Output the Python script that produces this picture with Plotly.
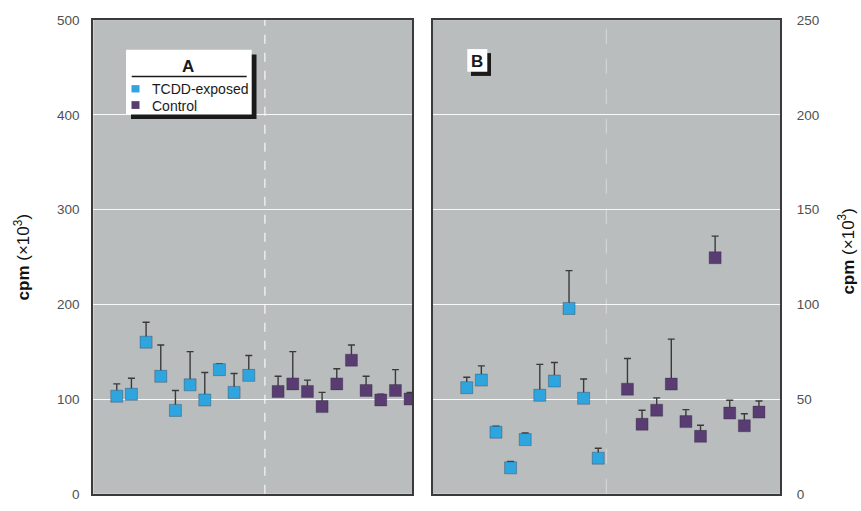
import plotly.graph_objects as go

W, H = 861, 511

# ---------------- data ----------------
exposed_pos = [1, 2, 3, 4, 5, 6, 7, 8, 9, 10]
control_pos = [12, 13, 14, 15, 16, 17, 18, 19, 20, 21]

a_exposed = [103, 105, 160, 124, 88, 115, 99, 131, 107, 125]
a_exposed_err = [13, 17, 21, 33, 21, 35, 29, 6, 20, 21]
a_control = [108, 116, 108, 92, 116, 141, 109, 99, 109, 100]
a_control_err = [16, 34, 12, 15, 16, 16, 15, 6, 22, 7]

b_exposed = [56, 60, 32.5, 13.7, 28.6, 52, 59.5, 97.8, 50.4, 18.8]
b_exposed_err = [5.5, 7.5, 3.1, 3.4, 3.5, 16.3, 9.8, 20, 10.2, 5.2]
b_control = [55.2, 36.7, 44.1, 57.9, 38.1, 30.3, 124.6, 42.6, 35.9, 43.1]
b_control_err = [16.2, 7.4, 6.5, 23.7, 6.3, 5.9, 11.4, 6.8, 6.3, 5.9]

a_ticks = [0, 100, 200, 300, 400, 500]
b_ticks = [0, 50, 100, 150, 200, 250]

series_names = ["TCDD-exposed", "Control"]

# ---------------- styles ----------------
BLUE = "#2ea5de"
PURPLE = "#583c72"
BG = "#b9bdbd"
ERRC = "#3a3a3a"
FONT = "Liberation Sans, Arial, sans-serif"
TICKFONT = dict(family=FONT, size=13.5, color="#505050")


def px(x):
    return x / W


def py(y):
    return 1 - y / H


fig = go.Figure()


def add_series(x, y, err, color, xa, ya, name):
    fig.add_trace(go.Scatter(
        x=x, y=y, mode="markers", name=name, showlegend=False,
        xaxis=xa, yaxis=ya, hoverinfo="skip",
        marker=dict(symbol="square", size=12, color=color,
                    line=dict(width=0.6, color="rgba(40,30,50,0.5)")),
        error_y=dict(type="data", array=err, arrayminus=[0] * len(err),
                     symmetric=False, color=ERRC, thickness=1.4, width=3.5),
    ))


add_series(exposed_pos, a_exposed, a_exposed_err, BLUE, "x", "y", series_names[0])
add_series(control_pos, a_control, a_control_err, PURPLE, "x", "y", series_names[1])
add_series(exposed_pos, b_exposed, b_exposed_err, BLUE, "x2", "y2", series_names[0])
add_series(control_pos, b_control, b_control_err, PURPLE, "x2", "y2", series_names[1])

y_dom = [py(501.5), py(13.5)]

axis_common = dict(showline=True, linecolor="#3a3a3a", linewidth=2, mirror=True,
                   zeroline=False, ticks="")

fig.update_layout(
    width=W, height=H,
    margin=dict(l=0, r=0, t=0, b=0),
    paper_bgcolor="white",
    plot_bgcolor=BG,
    showlegend=False,
    xaxis=dict(domain=[px(93.3), px(412.3)], range=[-0.6, 21.15],
               showgrid=False, showticklabels=False, **axis_common),
    yaxis=dict(domain=y_dom, range=[0, 500], tickvals=a_ticks,
               ticktext=[str(t) for t in a_ticks],
               showgrid=True, gridcolor="rgba(255,255,255,0.9)", gridwidth=1,
               tickfont=TICKFONT, ticklabelstandoff=9, **axis_common),
    xaxis2=dict(domain=[px(432.7), px(780)], range=[-1.33, 22.44], anchor="y2",
                showgrid=False, showticklabels=False, **axis_common),
    yaxis2=dict(domain=y_dom, range=[0, 250], anchor="x2", side="right",
                tickvals=b_ticks, ticktext=[str(t) for t in b_ticks],
                showgrid=True, gridcolor="rgba(255,255,255,0.9)", gridwidth=1,
                tickfont=TICKFONT, ticklabelstandoff=12, **axis_common),
)

shapes = []
# vertical dividers between groups
shapes.append(dict(type="line", xref="x", yref="y domain", x0=11.1, x1=11.1, y0=0, y1=1,
                   line=dict(color="rgba(255,255,255,0.85)", width=1.3, dash="dash"), layer="below"))
shapes.append(dict(type="line", xref="x2", yref="y2 domain", x0=10.55, x1=10.55, y0=0, y1=1,
                   line=dict(color="rgba(255,255,255,0.45)", width=1, dash="longdash"), layer="below"))

# legend box A (shadow + white box)
shapes.append(dict(type="rect", xref="paper", yref="paper",
                   x0=px(131), x1=px(256.5), y0=py(115.5), y1=py(49),
                   fillcolor="#1a1a1a", line=dict(width=0)))
shapes.append(dict(type="rect", xref="paper", yref="paper",
                   x0=px(126), x1=px(251.7), y0=py(110.7), y1=py(44),
                   fillcolor="white", line=dict(width=0)))
shapes.append(dict(type="line", xref="paper", yref="paper",
                   x0=px(131.7), x1=px(246.7), y0=py(71.7), y1=py(71.7),
                   line=dict(color="#1a1a1a", width=1.5)))
shapes.append(dict(type="rect", xref="paper", yref="paper",
                   x0=px(131.5), x1=px(139.5), y0=py(88), y1=py(80.5),
                   fillcolor=BLUE, line=dict(width=0)))
shapes.append(dict(type="rect", xref="paper", yref="paper",
                   x0=px(131.5), x1=px(139.5), y0=py(105), y1=py(97),
                   fillcolor=PURPLE, line=dict(width=0)))

# panel B label box
shapes.append(dict(type="rect", xref="paper", yref="paper",
                   x0=px(471), x1=px(491), y0=py(71), y1=py(47.5),
                   fillcolor="#1a1a1a", line=dict(width=0)))
shapes.append(dict(type="rect", xref="paper", yref="paper",
                   x0=px(467.3), x1=px(487.3), y0=py(66.7), y1=py(43.3),
                   fillcolor="white", line=dict(width=0)))

fig.update_layout(shapes=shapes)

LEGFONT = dict(family=FONT, size=14, color="#1a1a1a")
annotations = [
    dict(text="<b>A</b>", x=px(188), y=py(61), xref="paper", yref="paper", showarrow=False,
         font=dict(family=FONT, size=17, color="#1a1a1a"),
         xanchor="center", yanchor="middle"),
    dict(text=series_names[0], x=px(149.5), y=py(84.5), xref="paper", yref="paper", showarrow=False,
         font=LEGFONT, xanchor="left", yanchor="middle"),
    dict(text=series_names[1], x=px(149.5), y=py(101.5), xref="paper", yref="paper", showarrow=False,
         font=LEGFONT, xanchor="left", yanchor="middle"),
    dict(text="<b>B</b>", x=px(477.3), y=py(56), xref="paper", yref="paper", showarrow=False,
         font=dict(family=FONT, size=17, color="#1a1a1a"),
         xanchor="center", yanchor="middle"),
    dict(text="<b>cpm</b> (×10<sup>3</sup>)", x=px(22), y=py(258), xref="paper", yref="paper",
         showarrow=False, textangle=-90,
         font=dict(family=FONT, size=17, color="#111111"),
         xanchor="center", yanchor="middle"),
    dict(text="<b>cpm</b> (×10<sup>3</sup>)", x=px(846), y=py(252), xref="paper", yref="paper",
         showarrow=False, textangle=-90,
         font=dict(family=FONT, size=17, color="#111111"),
         xanchor="center", yanchor="middle"),
]
fig.update_layout(annotations=annotations)

fig.write_html(
    "out.html",
    config={"displayModeBar": False},
    post_script=(
        "var s=document.createElement('style');"
        "s.textContent='html,body{margin:0;padding:0;overflow:hidden;height:511px;}';"
        "document.head.appendChild(s);"
    ),
)
